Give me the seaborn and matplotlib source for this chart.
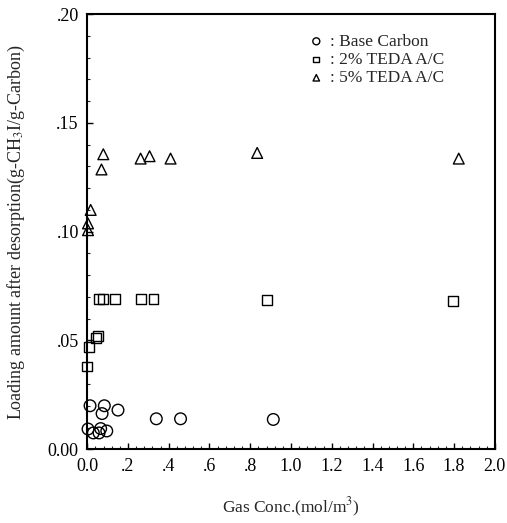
import numpy as np
import pandas as pd
import matplotlib
matplotlib.use("Agg")
import matplotlib.pyplot as plt
import seaborn as sns
from matplotlib.ticker import MultipleLocator, FixedLocator

# ---- data ----
base_x = [0.014, 0.004, 0.030, 0.058, 0.066, 0.073, 0.084, 0.096, 0.151, 0.339, 0.458, 0.913]
base_y = [0.020, 0.0093, 0.0075, 0.0075, 0.0095, 0.0164, 0.020, 0.0084, 0.018, 0.014, 0.014, 0.0137]

teda2_x = [0.001, 0.009, 0.042, 0.053, 0.058, 0.079, 0.135, 0.262, 0.325, 0.883, 1.795]
teda2_y = [0.038, 0.047, 0.051, 0.052, 0.069, 0.069, 0.069, 0.069, 0.069, 0.0685, 0.068]

teda5_x = [0.004, 0.004, 0.017, 0.070, 0.079, 0.262, 0.306, 0.409, 0.834, 1.823]
teda5_y = [0.1007, 0.1038, 0.110, 0.1286, 0.1356, 0.1336, 0.1347, 0.1336, 0.1362, 0.1336]

series_labels = [": Base Carbon", ": 2% TEDA A/C", ": 5% TEDA A/C"]
x_ticks = [0.0, 0.2, 0.4, 0.6, 0.8, 1.0, 1.2, 1.4, 1.6, 1.8, 2.0]
x_ticklabels = ["0.0", ".2", ".4", ".6", ".8", "1.0", "1.2", "1.4", "1.6", "1.8", "2.0"]
y_ticks = [0.00, 0.05, 0.10, 0.15, 0.20]
y_ticklabels = ["0.00", ".05", ".10", ".15", ".20"]

sns.set_style("ticks")
plt.rcParams["font.family"] = ["Liberation Serif", "DejaVu Serif"]
plt.rcParams["mathtext.fontset"] = "stix"

fig = plt.figure(figsize=(5.07, 5.23), dpi=100)
ax = fig.add_axes([0.172, 0.141, 0.804, 0.832])

markers = ["o", "s", "^"]
sizes = [70, 50, 60]
for xs, ys, lab, m, s in zip([base_x, teda2_x, teda5_x], [base_y, teda2_y, teda5_y],
                             series_labels, markers, sizes):
    df = pd.DataFrame({"x": xs, "y": ys})
    sns.scatterplot(data=df, x="x", y="y", ax=ax, marker=m, s=s,
                    facecolors="none", edgecolors="black", linewidths=1.0,
                    label=lab, zorder=3, clip_on=False)

ax.set_xlim(0, 2.0)
ax.set_ylim(0, 0.20)
ax.xaxis.set_major_locator(FixedLocator(x_ticks))
ax.set_xticklabels(x_ticklabels)
ax.yaxis.set_major_locator(FixedLocator(y_ticks))
ax.set_yticklabels(y_ticklabels)
ax.xaxis.set_minor_locator(MultipleLocator(0.04))
ax.yaxis.set_minor_locator(MultipleLocator(0.01))
ax.tick_params(axis="both", which="major", direction="in", length=4, width=1,
               labelsize=13, colors="black", pad=6)
ax.tick_params(axis="both", which="minor", direction="in", length=2, width=0.8)
ax.tick_params(top=False, right=False, which="both")
for sp in ax.spines.values():
    sp.set_linewidth(1.5)
    sp.set_color("black")

ax.set_xlabel("Gas Conc.(mol/m$^3$)", fontsize=12.5, labelpad=15)
ax.set_ylabel("Loading amount after desorption(g-CH$_3$I/g-Carbon)", fontsize=13, labelpad=15)

leg = ax.legend(loc="upper left", bbox_to_anchor=(0.545, 0.955), frameon=False,
                fontsize=12.5, markerscale=0.6, handlelength=0.8, handletextpad=0.4,
                labelspacing=0.12, borderaxespad=0, borderpad=0)

fig.savefig("out.png", dpi=100)
